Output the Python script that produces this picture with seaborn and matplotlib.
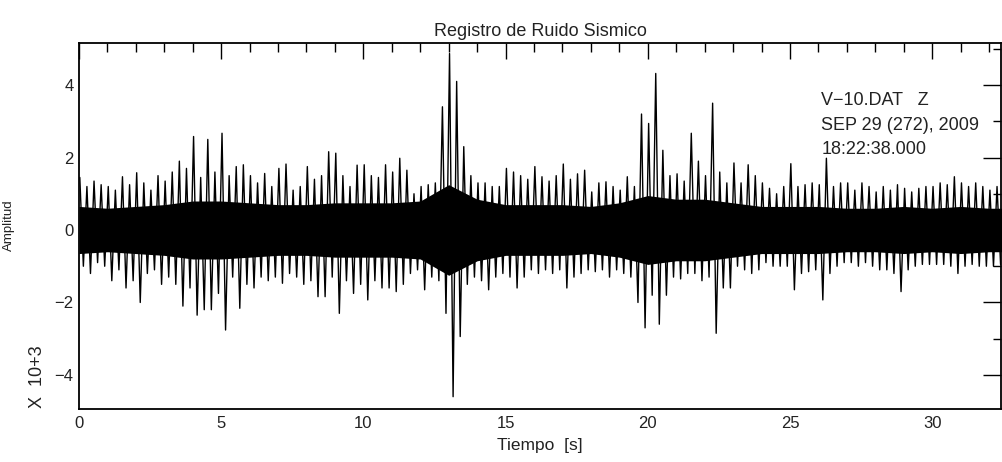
import numpy as np
import seaborn as sns
import matplotlib.pyplot as plt
from matplotlib.ticker import MultipleLocator

# peak values of the trace, one pair per 0.25 s bin (x 10^3 counts)
bin_width = 0.25
upper = [
    1.45, 1.2, 1.35, 1.25, 1.2, 1.1, 1.47, 1.25, 1.58, 1.3,
    1.1, 1.5, 1.35, 1.6, 1.9, 1.7, 2.58, 1.45, 2.5, 1.6,
    2.67, 1.5, 1.75, 1.8, 1.5, 1.3, 1.56, 1.2, 1.7, 1.82,
    1.1, 1.2, 1.75, 1.4, 1.5, 2.16, 2.12, 1.5, 1.2, 1.79,
    1.8, 1.5, 1.45, 1.8, 1.6, 1.98, 1.65, 1.0, 1.2, 1.25,
    1.3, 3.4, 4.87, 4.1, 2.3, 1.5, 1.3, 1.3, 1.2, 1.2,
    1.7, 1.6, 1.5, 1.4, 1.75, 1.47, 1.35, 1.5, 1.82, 1.4,
    1.55, 1.65, 1.05, 1.3, 1.33, 1.2, 1.1, 1.47, 1.2, 3.2,
    2.94, 4.32, 2.2, 1.5, 1.55, 1.35, 2.67, 1.9, 1.5, 3.5,
    1.6, 1.3, 1.85, 1.3, 1.8, 1.5, 1.3, 1.15, 1.0, 1.2,
    1.83, 1.2, 1.25, 1.3, 1.25, 1.98, 1.2, 1.3, 1.3, 1.1,
    1.3, 1.2, 1.05, 1.2, 1.1, 1.25, 1.15, 1.05, 1.15, 1.2,
    1.2, 1.3, 1.25, 1.47, 1.3, 1.2, 1.3, 1.2, 1.1, 1.2,
]
lower = [
    -1.0, -1.2, -0.9, -1.0, -1.4, -1.1, -1.6, -1.4, -2.0, -1.2,
    -1.1, -1.5, -1.3, -1.5, -2.1, -1.6, -2.35, -2.2, -2.2, -1.75,
    -2.76, -1.3, -2.16, -1.5, -1.6, -1.3, -1.4, -1.3, -1.47, -1.2,
    -1.3, -1.5, -1.4, -1.84, -1.84, -1.3, -2.3, -1.4, -1.75, -1.5,
    -1.93, -1.4, -1.6, -1.6, -1.7, -1.5, -1.2, -1.1, -1.65, -1.3,
    -1.4, -2.3, -4.6, -2.94, -1.5, -1.3, -1.4, -1.65, -1.3, -1.2,
    -1.3, -1.6, -1.3, -1.1, -1.2, -1.1, -1.2, -1.1, -1.6, -1.3,
    -1.2, -1.1, -1.15, -1.1, -1.3, -1.1, -1.2, -1.3, -2.0, -2.7,
    -1.8, -2.6, -1.8, -1.3, -1.35, -1.2, -1.2, -1.4, -1.3, -2.85,
    -1.6, -1.6, -1.0, -1.1, -1.2, -1.1, -0.9, -1.0, -1.0, -1.0,
    -1.65, -1.2, -1.15, -1.1, -1.93, -1.2, -1.0, -0.9, -0.9, -1.0,
    -0.9, -1.0, -1.1, -1.1, -1.2, -1.7, -1.1, -1.0, -0.95, -0.95,
    -0.95, -0.95, -1.0, -1.2, -1.0, -0.95, -1.0, -1.0, -1.0, -0.95,
]
# half width of the solid core of the trace, one value per second
core = [0.65, 0.6, 0.65, 0.7, 0.8, 0.8, 0.75, 0.7, 0.7, 0.75,
        0.75, 0.75, 0.8, 1.25, 0.85, 0.7, 0.7, 0.7, 0.65, 0.75,
        0.95, 0.85, 0.85, 0.75, 0.65, 0.65, 0.65, 0.6, 0.6, 0.65,
        0.6, 0.65, 0.6, 0.6]

title = "Registro de Ruido Sismico"
info_lines = ["V\u221210.DAT   Z", "SEP 29 (272), 2009", "18:22:38.000"]

sns.set_style("white")
plt.rcParams["font.family"] = ["Liberation Sans", "DejaVu Sans"]

fig = plt.figure(figsize=(10.02, 4.62), dpi=100)
ax = fig.add_axes([0.0788, 0.1147, 0.9205, 0.7922])

# min/max trace: each bin goes up to its peak then down to its trough
t0 = np.arange(len(upper)) * bin_width
times = np.column_stack([t0 + 0.03, t0 + 0.155]).ravel()
values = np.column_stack([upper, lower]).ravel()

core = np.array(core)
core_t = np.arange(len(core))
ax.fill_between(core_t, -core, core, color="black", lw=0)
sns.lineplot(x=times, y=values, sort=False, estimator=None,
             color="black", linewidth=1.0, ax=ax)

ax.set_xlim(0, 32.43)
ax.set_ylim(-4.94, 5.16)

ax.xaxis.set_major_locator(MultipleLocator(5))
ax.xaxis.set_minor_locator(MultipleLocator(1))
ax.yaxis.set_major_locator(MultipleLocator(2))
ax.yaxis.set_minor_locator(MultipleLocator(1))
ax.tick_params(which="both", direction="in", top=True, right=True,
               color="black", width=1, labelsize=12, labelcolor="#222222")
ax.tick_params(axis="x", which="major", length=11.5, pad=5)
ax.tick_params(axis="x", which="minor", length=6.5)
ax.tick_params(axis="y", which="major", length=13, pad=4)
ax.tick_params(axis="y", which="minor", length=6)
for s in ax.spines.values():
    s.set_color("black")
    s.set_linewidth(1.3)

ax.set_title(title, fontsize=13, pad=5, color="#222222")
ax.set_xlabel("Tiempo  [s]", fontsize=12.5, labelpad=5, color="#222222")
ax.set_ylabel("")
fig.text(0.009, 0.513, "Amplitud", rotation=90, fontsize=9.5,
         ha="center", va="center", color="#222222")
fig.text(0.037, 0.184, "X  10+3", rotation=90, fontsize=13,
         ha="center", va="center", color="#222222")

for i, line in enumerate(info_lines):
    ax.text(0.805, 0.865 - i * 0.066, line, transform=ax.transAxes,
            fontsize=13, ha="left", va="top", color="#222222")

fig.savefig("out.png", dpi=100)
